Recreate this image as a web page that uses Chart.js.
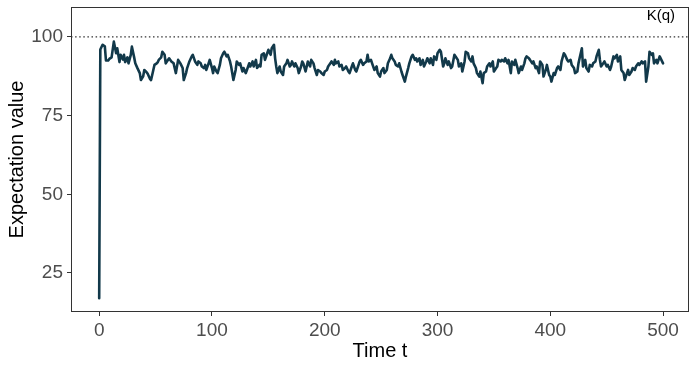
<!DOCTYPE html>
<html><head><meta charset="utf-8">
<script src="https://cdn.jsdelivr.net/npm/chart.js@4/dist/chart.umd.min.js"></script>
<style>html,body{margin:0;padding:0;background:#fff;overflow:hidden;}</style>
</head><body>
<canvas id="c" width="700" height="369"></canvas>
<script>
// Time steps and matching expectation values
const times = [
  0,1,3,5,6,8,9,11,13,15,16,18,19,21,22,23,25,26,28,29,
  31,32,34,36,37,39,40,42,43,45,46,48,49,51,52,53,55,56,58,59,
  62,64,66,68,70,72,74,75,77,78,80,82,83,85,87,88,90,91,93,94,
  95,97,98,100,101,102,104,105,107,108,110,111,113,114,116,117,119,121,122,124,
  125,127,128,130,131,133,134,136,137,139,140,142,143,144,146,147,149,150,152,153,
  155,156,157,158,160,161,163,164,166,167,169,170,171,173,174,176,177,179,180,181,
  183,185,187,188,190,191,193,194,196,197,199,200,202,203,205,206,208,209,210,212,
  213,215,216,218,219,221,222,224,225,227,228,230,231,232,234,235,237,238,239,241,
  242,244,246,247,249,250,252,253,255,256,258,259,260,262,263,265,266,268,269,271,
  272,274,275,277,278,280,281,282,284,285,287,288,290,291,293,294,296,297,299,300,
  302,303,305,306,307,309,310,312,313,315,316,318,319,321,322,324,325,327,328,330,
  331,332,334,335,337,338,340,341,343,344,346,347,349,350,352,353,354,356,357,359,
  360,362,363,365,366,368,369,371,372,374,375,377,378,379,381,382,384,385,387,388,
  390,391,393,394,396,397,399,400,401,403,404,406,407,409,410,412,413,415,416,418,
  419,421,422,424,425,426,428,429,431,432,434,435,437,438,440,441,443,444,445,447,
  448,450,451,453,454,456,457,459,460,462,463,465,466,468,469,470,472,473,475,476,
  478,479,481,482,484,485,487,488,490,491,492,494,495,497,500
];
const values = [
  17.0,96.0,97.5,97.0,92.5,92.5,93.0,93.5,98.5,94.8,96.4,92.0,94.3,92.8,94.3,92.0,93.5,91.6,94.3,96.9,
  93.5,91.6,90.0,88.5,86.3,87.5,89.5,88.8,88.3,86.7,86.3,89.5,91.1,91.6,92.0,92.8,93.5,95.3,94.3,91.6,
  93.2,92.2,91.6,88.5,92.7,91.6,90.1,86.3,88.5,90.1,92.2,93.8,94.3,92.2,91.1,92.2,91.6,90.6,90.1,91.1,
  89.5,91.6,92.7,90.1,88.5,90.6,89.0,88.5,91.1,93.2,94.8,95.3,93.8,94.3,92.2,90.6,86.3,89.5,92.2,91.1,
  91.6,89.0,90.1,88.5,89.5,91.6,90.6,92.2,90.6,92.7,90.1,91.1,90.6,94.3,94.8,92.7,94.8,95.9,94.3,96.4,
  97.5,93.2,90.6,88.5,90.6,89.0,87.9,90.6,91.6,92.7,90.6,91.1,92.2,90.6,91.6,90.1,88.5,90.6,92.2,91.6,
  89.0,92.2,90.6,92.7,91.6,90.1,87.9,89.5,89.0,88.5,87.9,89.0,89.5,90.6,91.6,92.2,91.1,92.7,91.6,92.2,
  90.6,91.1,89.5,90.1,90.6,89.0,88.5,90.6,91.6,89.5,89.0,91.1,92.2,92.7,91.1,91.6,92.2,94.3,92.2,92.7,
  91.6,89.5,90.6,88.5,87.4,89.0,90.1,88.5,89.5,91.6,93.2,94.3,93.2,92.2,91.1,90.6,91.6,89.0,87.9,85.8,
  87.4,90.1,91.6,93.8,94.3,92.7,93.2,92.2,93.2,91.1,92.7,90.6,92.2,93.2,91.6,93.2,91.1,93.8,92.7,94.8,
  95.9,95.3,90.6,91.6,93.2,91.1,92.2,90.1,90.6,94.3,93.8,92.7,90.6,91.6,89.0,92.2,95.3,94.8,93.2,92.2,
  93.8,91.6,90.1,88.5,87.4,89.0,85.3,88.5,89.0,90.6,91.6,90.6,92.2,89.0,90.1,90.6,92.7,92.2,92.7,92.2,
  93.2,91.6,92.7,88.5,92.2,91.1,92.7,90.1,88.5,90.6,89.5,91.6,93.2,93.8,93.2,92.7,91.6,92.2,90.1,90.6,
  88.5,92.2,91.1,87.4,89.5,91.1,87.9,87.4,85.8,88.5,87.9,90.1,90.6,89.5,92.2,94.8,94.3,92.7,92.2,92.7,
  91.1,90.1,88.5,89.0,91.6,93.2,96.4,90.6,92.7,90.1,89.0,91.1,90.6,91.6,92.2,93.8,95.9,92.7,90.6,91.6,
  92.2,90.6,91.1,89.5,90.6,93.8,93.2,94.3,92.2,93.8,89.5,88.5,86.3,88.5,89.5,87.9,89.0,90.1,89.5,90.6,
  91.6,91.1,92.2,91.6,92.2,85.8,90.6,95.3,94.3,94.8,91.6,92.7,91.6,93.8,91.6
];
const xTicks = [0, 100, 200, 300, 400, 500];
const yTicks = [25, 50, 75, 100];
const kLevel = 100;
const kLabel = 'K(q)';
const kLabelAt = [498, 106.7];
const xRange = [-25, 523];
const yRange = [12.6, 109.5];
const xTitle = 'Time t';
const yTitle = 'Expectation value';

const FONT = '"Liberation Sans", Arial, sans-serif';
Chart.defaults.font.family = FONT;

const framePlugin = {
  id: 'frame',
  afterDatasetsDraw(chart) {
    const {ctx, chartArea: a} = chart;
    ctx.save();
    ctx.strokeStyle = '#333333';
    ctx.lineWidth = 1;
    ctx.strokeRect(a.left + 0.5, a.top + 0.5, a.right - a.left - 1, a.bottom - a.top - 1);
    ctx.restore();
  }
};
const labelPlugin = {
  id: 'klabel',
  afterDatasetsDraw(chart) {
    const {ctx, scales} = chart;
    ctx.save();
    ctx.font = '15px ' + FONT;
    ctx.fillStyle = '#000';
    ctx.textAlign = 'center';
    ctx.textBaseline = 'middle';
    ctx.fillText(kLabel, scales.x.getPixelForValue(kLabelAt[0]), scales.y.getPixelForValue(kLabelAt[1]));
    ctx.restore();
  }
};

new Chart(document.getElementById('c'), {
  type: 'line',
  data: {
    datasets: [
      {
        data: times.map((t, i) => ({x: t, y: values[i]})),
        borderColor: '#12394a',
        borderWidth: 2.6,
        pointRadius: 0,
        tension: 0,
        borderJoinStyle: 'round',
        borderCapStyle: 'round'
      },
      {
        data: [{x: xRange[0], y: kLevel}, {x: xRange[1], y: kLevel}],
        borderColor: '#333333',
        borderWidth: 1.2,
        borderDash: [1.5, 2.6],
        pointRadius: 0
      }
    ]
  },
  options: {
    responsive: false,
    animation: false,
    devicePixelRatio: 1,
    layout: {padding: {top: 7, right: 11, left: 0, bottom: 0}},
    plugins: {legend: {display: false}, tooltip: {enabled: false}},
    scales: {
      x: {
        type: 'linear',
        min: xRange[0], max: xRange[1],
        afterBuildTicks: s => { s.ticks = xTicks.map(v => ({value: v})); },
        afterFit: s => { s.height = 57; s.paddingLeft = 0; s.paddingRight = 0; },
        grid: {display: true, drawOnChartArea: false, drawTicks: true, tickLength: 4, color: '#333333', tickWidth: 1},
        border: {display: false},
        ticks: {color: '#4d4d4d', font: {size: 19}, padding: 3, maxRotation: 0, autoSkip: false},
        title: {display: true, text: xTitle, color: '#000', font: {size: 20}, padding: {top: 0, bottom: 6}}
      },
      y: {
        type: 'linear',
        min: yRange[0], max: yRange[1],
        afterBuildTicks: s => { s.ticks = yTicks.map(v => ({value: v})); },
        afterFit: s => { s.width = 71; s.paddingTop = 0; s.paddingBottom = 0; },
        grid: {display: true, drawOnChartArea: false, drawTicks: true, tickLength: 4, color: '#333333', tickWidth: 1},
        border: {display: false},
        ticks: {color: '#4d4d4d', font: {size: 19}, padding: 4},
        title: {display: true, text: yTitle, color: '#000', font: {size: 20}, padding: {top: 5, bottom: 0}}
      }
    }
  },
  plugins: [framePlugin, labelPlugin]
});
</script>
</body></html>
